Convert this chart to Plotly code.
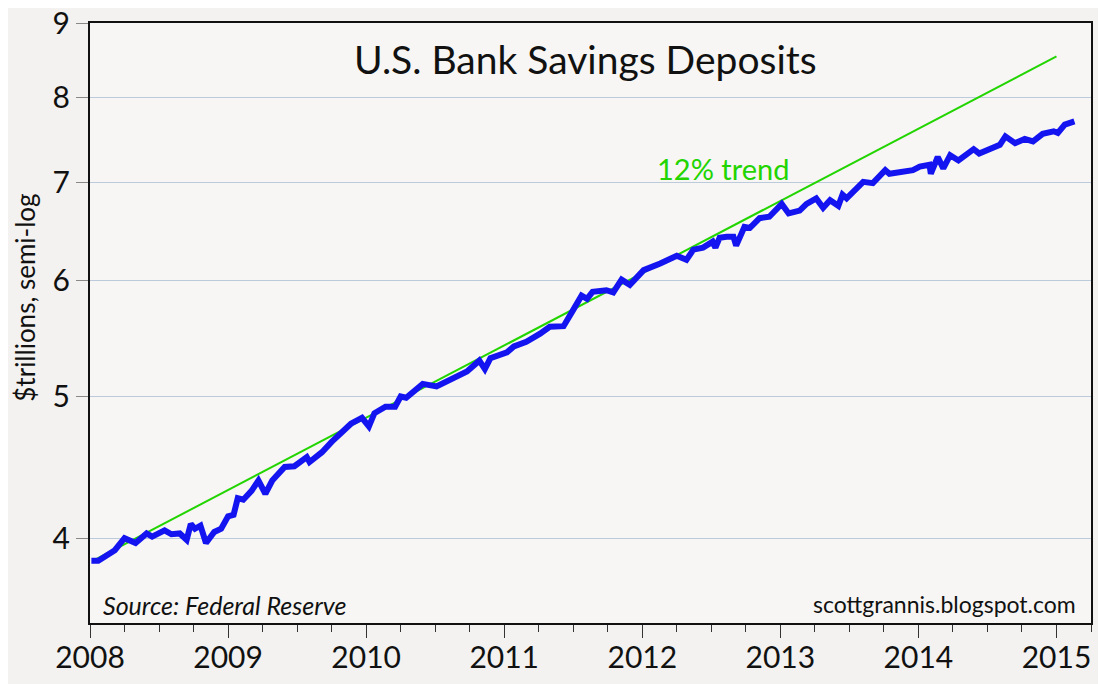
import plotly.graph_objects as go

# Savings deposits, $ trillions, x in decimal years
dep_x = [2008.01, 2008.06, 2008.18, 2008.25, 2008.33, 2008.41, 2008.45, 2008.54, 2008.59, 2008.65,
         2008.70, 2008.73, 2008.76, 2008.80, 2008.84, 2008.90, 2008.95, 2009.00, 2009.04, 2009.07,
         2009.11, 2009.17, 2009.22, 2009.27, 2009.32, 2009.41, 2009.48, 2009.57, 2009.59, 2009.68,
         2009.75, 2009.82, 2009.89, 2009.97, 2010.02, 2010.06, 2010.14, 2010.21, 2010.25, 2010.29,
         2010.33, 2010.41, 2010.51, 2010.61, 2010.73, 2010.82, 2010.86, 2010.90, 2011.02, 2011.07,
         2011.16, 2011.26, 2011.33, 2011.43, 2011.46, 2011.50, 2011.56, 2011.60, 2011.64, 2011.74,
         2011.79, 2011.85, 2011.91, 2011.98, 2012.01, 2012.13, 2012.25, 2012.32, 2012.37, 2012.44,
         2012.51, 2012.53, 2012.56, 2012.61, 2012.66, 2012.68, 2012.74, 2012.78, 2012.85, 2012.92,
         2013.01, 2013.06, 2013.14, 2013.19, 2013.26, 2013.31, 2013.36, 2013.42, 2013.45, 2013.48,
         2013.54, 2013.60, 2013.67, 2013.76, 2013.79, 2013.89, 2013.96, 2014.01, 2014.08, 2014.09,
         2014.14, 2014.18, 2014.23, 2014.29, 2014.40, 2014.44, 2014.52, 2014.59, 2014.63, 2014.70,
         2014.77, 2014.83, 2014.90, 2014.98, 2015.01, 2015.06, 2015.13]
dep_y = [3.86, 3.86, 3.925, 4.00, 3.97, 4.03, 4.01, 4.05, 4.025, 4.03,
         3.99, 4.09, 4.06, 4.08, 3.97, 4.04, 4.06, 4.14, 4.15, 4.26,
         4.25, 4.31, 4.38, 4.29, 4.38, 4.475, 4.48, 4.545, 4.51, 4.58,
         4.655, 4.73, 4.79, 4.835, 4.77, 4.87, 4.92, 4.92, 5.00, 4.99,
         5.03, 5.10, 5.08, 5.13, 5.20, 5.29, 5.22, 5.31, 5.36, 5.41,
         5.45, 5.52, 5.58, 5.585, 5.64, 5.73, 5.86, 5.83, 5.895, 5.91,
         5.89, 6.01, 5.96, 6.05, 6.10, 6.165, 6.24, 6.20, 6.30, 6.32,
         6.38, 6.32, 6.42, 6.43, 6.43, 6.34, 6.53, 6.52, 6.62, 6.635,
         6.77, 6.67, 6.70, 6.77, 6.83, 6.73, 6.81, 6.75, 6.87, 6.83,
         6.93, 7.01, 6.995, 7.14, 7.10, 7.12, 7.14, 7.18, 7.20, 7.10,
         7.29, 7.16, 7.31, 7.25, 7.38, 7.33, 7.39, 7.43, 7.53, 7.45,
         7.50, 7.47, 7.56, 7.59, 7.57, 7.67, 7.71]

# 12% trend line endpoints
trend_x = [2008.02, 2015.0]
trend_y = [3.86, 8.54]

year_ticks = [2008, 2009, 2010, 2011, 2012, 2013, 2014, 2015]
y_ticks = [4, 5, 6, 7, 8, 9]

FONT = "Lato"

fig = go.Figure()
fig.add_trace(go.Scatter(x=trend_x, y=trend_y, mode="lines",
                         line=dict(color="#22d400", width=2), showlegend=False))
fig.add_trace(go.Scatter(x=dep_x, y=dep_y, mode="lines",
                         line=dict(color="#1414f0", width=6), showlegend=False))

# page body has an 8px margin, so the figure is 16px smaller than the window
fig.update_layout(
    width=1098, height=676,
    margin=dict(l=82, r=15, t=15, b=61, autoexpand=False),
    paper_bgcolor="#f3f2f0",
    plot_bgcolor="#f7f6f4",
    font=dict(family=FONT, color="#111111"),
    showlegend=False,
)

fig.update_xaxes(
    range=[2008, 2015.25], tickvals=year_ticks, ticktext=[str(y) for y in year_ticks],
    showgrid=False, zeroline=False, automargin=False,
    showline=True, linecolor="#111111", linewidth=2, mirror=True,
    ticks="outside", ticklen=13, tickwidth=1, tickcolor="#333333",
    ticklabelstandoff=-6, ticklabeloverflow="allow",
    tickfont=dict(size=30, family=FONT),
    minor=dict(dtick=0.25, tick0=2008, ticks="outside", ticklen=7, tickcolor="#333333", showgrid=False),
)
fig.update_yaxes(
    type="log", range=[0.5441, 0.95430], tickvals=y_ticks, ticktext=[str(v) for v in y_ticks],
    showgrid=True, gridcolor="#bccbdb", gridwidth=1, zeroline=False, automargin=False,
    showline=True, linecolor="#111111", linewidth=2, mirror=True,
    ticks="outside", ticklen=12, tickcolor="#888888",
    ticklabeloverflow="allow",
    tickfont=dict(size=30, family=FONT),
)

fig.add_annotation(text="U.S. Bank Savings Deposits", xref="paper", yref="paper",
                   x=0.4955, y=0.94, showarrow=False, xanchor="center", yanchor="middle",
                   font=dict(size=39, color="#111111", family=FONT))
fig.add_annotation(text="12% trend", xref="paper", yref="paper",
                   x=0.632, y=0.758, showarrow=False, xanchor="center", yanchor="middle",
                   font=dict(size=29, color="#22d400", family=FONT))
fig.add_annotation(text="$trillions, semi-log", xref="paper", yref="paper",
                   x=-0.065, y=0.542, showarrow=False, textangle=-90,
                   xanchor="center", yanchor="middle",
                   font=dict(size=26, color="#111111", family=FONT))
fig.add_annotation(text="<i>Source: Federal Reserve</i>", xref="paper", yref="paper",
                   x=0.011, y=0.03, showarrow=False, xanchor="left", yanchor="middle",
                   font=dict(size=25, color="#111111", family=FONT))
fig.add_annotation(text="scottgrannis.blogspot.com", xref="paper", yref="paper",
                   x=0.987, y=0.032, showarrow=False, xanchor="right", yanchor="middle",
                   font=dict(size=23, color="#111111", family=FONT))

fig.write_html("out.html")
